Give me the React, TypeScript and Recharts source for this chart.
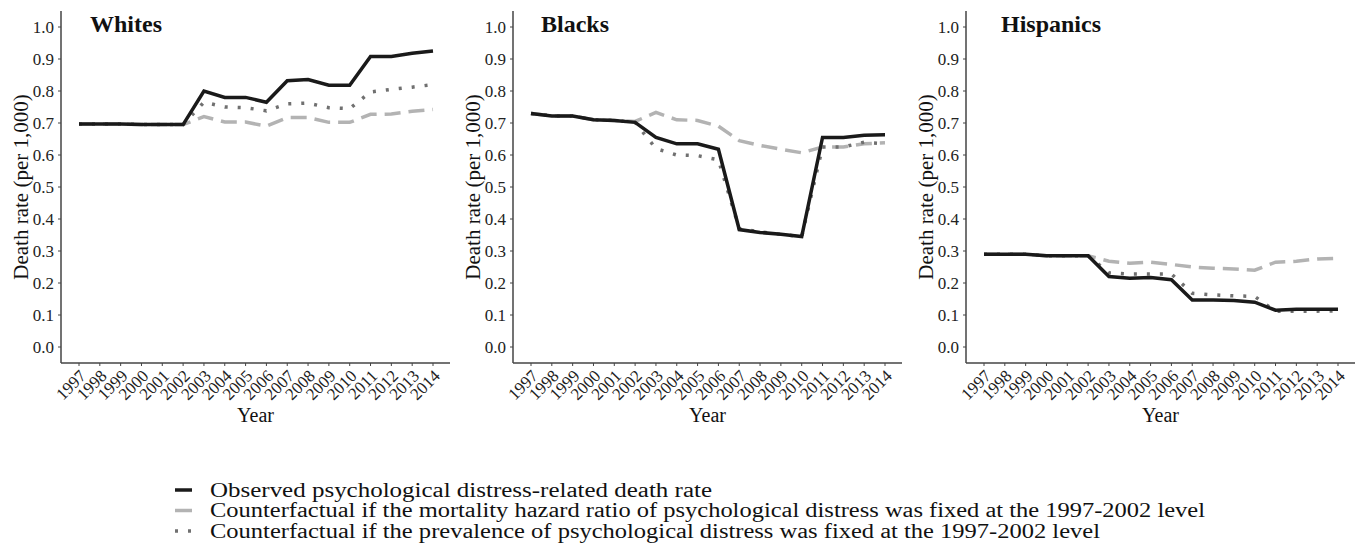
import { LineChart, Line, XAxis, YAxis, Label } from "recharts";

const years = [1997, 1998, 1999, 2000, 2001, 2002, 2003, 2004, 2005, 2006, 2007, 2008, 2009, 2010, 2011, 2012, 2013, 2014];
const yTicks = [0, 0.1, 0.2, 0.3, 0.4, 0.5, 0.6, 0.7, 0.8, 0.9, 1.0];

// Whites
const whitesObserved = [0.697, 0.697, 0.697, 0.695, 0.695, 0.695, 0.8, 0.78, 0.78, 0.765, 0.832, 0.836, 0.818, 0.818, 0.908, 0.908, 0.918, 0.925];
const whitesHazard = [0.697, 0.697, 0.697, 0.695, 0.695, 0.695, 0.72, 0.703, 0.703, 0.69, 0.717, 0.717, 0.702, 0.702, 0.727, 0.728, 0.737, 0.742];
const whitesPrevalence = [0.697, 0.697, 0.697, 0.695, 0.695, 0.695, 0.765, 0.75, 0.748, 0.738, 0.76, 0.762, 0.748, 0.745, 0.797, 0.805, 0.812, 0.82];

// Blacks
const blacksObserved = [0.73, 0.722, 0.722, 0.71, 0.708, 0.702, 0.655, 0.635, 0.635, 0.618, 0.367, 0.358, 0.352, 0.345, 0.655, 0.655, 0.662, 0.663];
const blacksHazard = [0.73, 0.722, 0.722, 0.71, 0.708, 0.705, 0.733, 0.71, 0.708, 0.69, 0.645, 0.63, 0.618, 0.607, 0.625, 0.625, 0.635, 0.638];
const blacksPrevalence = [0.73, 0.722, 0.722, 0.71, 0.708, 0.702, 0.62, 0.6, 0.598, 0.585, 0.37, 0.36, 0.352, 0.345, 0.625, 0.625, 0.64, 0.635];

// Hispanics
const hispObserved = [0.29, 0.29, 0.29, 0.285, 0.285, 0.285, 0.22, 0.215, 0.217, 0.21, 0.147, 0.147, 0.145, 0.14, 0.115, 0.118, 0.118, 0.118];
const hispHazard = [0.29, 0.29, 0.29, 0.285, 0.285, 0.285, 0.268, 0.262, 0.265, 0.258, 0.25, 0.246, 0.244, 0.24, 0.265, 0.268, 0.275, 0.277];
const hispPrevalence = [0.29, 0.29, 0.29, 0.285, 0.285, 0.285, 0.232, 0.228, 0.228, 0.228, 0.168, 0.163, 0.16, 0.158, 0.112, 0.112, 0.112, 0.113];

const legendLabels = [
  "Observed psychological distress-related death rate",
  "Counterfactual if the mortality hazard ratio of psychological distress was fixed at the 1997-2002 level",
  "Counterfactual if the prevalence of psychological distress was fixed at the 1997-2002 level",
];
const legendWidths = [502, 995, 890];

const font = '"Liberation Serif", "Times New Roman", serif';
const OBS = "#1a1a1a";
const HAZ = "#b3b3b3";
const PREV = "#707070";
const AXIS = "#444";

function build(obs: number[], haz: number[], prev: number[]) {
  return years.map((y, i) => ({ year: y, observed: obs[i], hazard: haz[i], prevalence: prev[i] }));
}

const panels = [
  { title: "Whites", left: 0, titleX: 90, data: build(whitesObserved, whitesHazard, whitesPrevalence) },
  { title: "Blacks", left: 452, titleX: 541, data: build(blacksObserved, blacksHazard, blacksPrevalence) },
  { title: "Hispanics", left: 905, titleX: 1001, data: build(hispObserved, hispHazard, hispPrevalence) },
];

function YearTick({ x, y, payload }: any) {
  const ax = x + 8;
  const ay = y + 9;
  return (
    <text x={ax} y={ay} transform={`rotate(-45, ${ax}, ${ay})`} textAnchor="end"
      fontSize={17} fontFamily={font} fill="#222">
      {payload.value}
    </text>
  );
}

function RateTick({ x, y, payload }: any) {
  return (
    <text x={x} y={y} dy={5.5} textAnchor="end" fontSize={17} fontFamily={font} fill="#222">
      {Number(payload.value).toFixed(1)}
    </text>
  );
}

function YLabel({ viewBox }: any) {
  const cx = viewBox.x + 21;
  const cy = viewBox.y + viewBox.height / 2;
  return (
    <text x={cx} y={cy} transform={`rotate(-90, ${cx}, ${cy})`} textAnchor="middle" dy={7}
      fontSize={21} fontFamily={font} fill="#111">
      Death rate (per 1,000)
    </text>
  );
}

function XLabel({ viewBox }: any) {
  return (
    <text x={viewBox.x + viewBox.width / 2} y={viewBox.y + 59} textAnchor="middle"
      fontSize={20} fontFamily={font} fill="#111">
      Year
    </text>
  );
}

function Panel({ data }: any) {
  return (
    <LineChart width={461} height={433} data={data} margin={{ top: 11, right: 11, left: 0, bottom: 0 }}>
      <XAxis dataKey="year" padding={{ left: 18, right: 17 }} interval={0} height={70}
        tick={<YearTick />} tickSize={3} tickMargin={2}
        axisLine={{ stroke: AXIS, strokeWidth: 1.5 }} tickLine={{ stroke: AXIS }}>
        <Label content={<XLabel />} />
      </XAxis>
      <YAxis type="number" domain={[-0.05, 1.05]} ticks={yTicks} width={61} allowDataOverflow
        tick={<RateTick />} tickSize={3} tickMargin={4}
        axisLine={{ stroke: AXIS, strokeWidth: 1.5 }} tickLine={{ stroke: AXIS }}>
        <Label content={<YLabel />} />
      </YAxis>
      <Line dataKey="hazard" stroke={HAZ} strokeWidth={3.5} strokeDasharray="16 8" dot={false} isAnimationActive={false} />
      <Line dataKey="prevalence" stroke={PREV} strokeWidth={3.5} strokeDasharray="3 10" dot={false} isAnimationActive={false} />
      <Line dataKey="observed" stroke={OBS} strokeWidth={3.5} dot={false} isAnimationActive={false} />
    </LineChart>
  );
}

export default function App() {
  const rows = [496.5, 517, 537.5];
  return (
    <div style={{ position: "fixed", left: 0, top: 0, width: 1364, height: 546, background: "#fff", fontFamily: font }}>
      {panels.map((p) => (
        <div key={p.title} style={{ position: "absolute", left: p.left, top: 0 }}>
          <Panel data={p.data} />
        </div>
      ))}
      <svg width={1364} height={546} style={{ position: "absolute", left: 0, top: 0, pointerEvents: "none" }}>
        {panels.map((p) => (
          <text key={p.title} x={p.titleX} y={32} fontSize={24} fontWeight="bold" fontFamily={font} fill="#111">
            {p.title}
          </text>
        ))}
        <line x1={175} x2={192} y1={rows[0] - 6.5} y2={rows[0] - 6.5} stroke={OBS} strokeWidth={3.5} />
        <line x1={175} x2={192} y1={rows[1] - 6.5} y2={rows[1] - 6.5} stroke={HAZ} strokeWidth={3.5} />
        <line x1={175} x2={192} y1={rows[2] - 6.5} y2={rows[2] - 6.5} stroke={PREV} strokeWidth={3.5} strokeDasharray="3 10" />
        {legendLabels.map((t, i) => (
          <text key={t} x={210} y={rows[i]} fontSize={20} fontFamily={font} fill="#111"
            textLength={legendWidths[i]} lengthAdjust="spacingAndGlyphs">
            {t}
          </text>
        ))}
      </svg>
    </div>
  );
}
